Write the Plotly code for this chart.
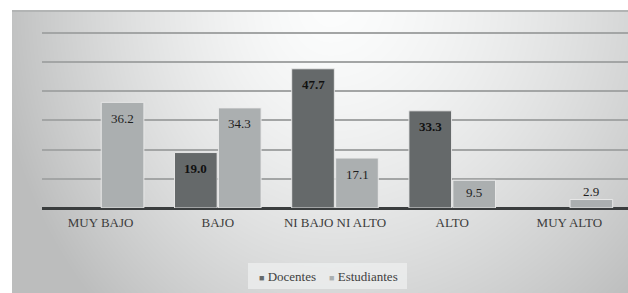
import base64, struct, zlib
import numpy as np
import plotly.graph_objects as go

categories = ["MUY BAJO", "BAJO", "NI BAJO NI ALTO", "ALTO", "MUY ALTO"]
docentes = [None, 19.0, 47.7, 33.3, None]
estudiantes = [36.2, 34.3, 17.1, 9.5, 2.9]
series_names = ["Docentes", "Estudiantes"]

W, H = 628, 293
ML, MR, MT, MB = 42, 0, 30, 85
PW, PH = W - ML - MR, H - MT - MB
YMAX = 61

DOC_COLOR = "#65696a"
EST_COLOR = "#abafb0"
FONT = "Liberation Serif"


def png_uri(arr):
    h, w, _ = arr.shape
    raw = b"".join(b"\x00" + arr[y].tobytes() for y in range(h))

    def chunk(t, d):
        return struct.pack(">I", len(d)) + t + d + struct.pack(">I", zlib.crc32(t + d) & 0xFFFFFFFF)

    png = (b"\x89PNG\r\n\x1a\n" + chunk(b"IHDR", struct.pack(">IIBBBBB", w, h, 8, 2, 0, 0, 0))
           + chunk(b"IDAT", zlib.compress(raw, 9)) + chunk(b"IEND", b""))
    return "data:image/png;base64," + base64.b64encode(png).decode()


# background gradient (decoration)
yy, xx = np.mgrid[0:H, 0:W].astype(float)
dx = xx - 330
dx = np.where(dx < 0, dx * 1.25, dx)
dy = yy * 1.0
d = np.sqrt(dx ** 2 + dy ** 2)
v = 252 - 70 * (d / 450) ** 1.5
v = np.clip(v, 188, 252)
img = np.stack([v, v + 1, v + 1], axis=-1)
img = np.clip(img, 0, 255)
img[:, :12] = 255
img[:10, :] = 255
img[10:12, 12:] = [178, 180, 180]
img = img.astype(np.uint8)

fig = go.Figure()
fig.add_trace(go.Bar(x=categories, y=docentes, name=series_names[0], marker_color=DOC_COLOR,
                     marker_line=dict(color="rgba(235,235,235,0.9)", width=1), showlegend=False))
fig.add_trace(go.Bar(x=categories, y=estudiantes, name=series_names[1], marker_color=EST_COLOR,
                     marker_line=dict(color="rgba(235,235,235,0.9)", width=1), showlegend=False))

px_per_unit = PH / YMAX
annotations = []
for series, shift, bold, color in [(docentes, -22, True, "#111111"), (estudiantes, 22, False, "#1e1e1e")]:
    for cat, val in zip(categories, series):
        if val is None:
            continue
        hpx = val * px_per_unit
        if hpx < 20:
            ys = 8
        else:
            ys = -min(16, hpx / 2 - 2)
        txt = f"{val:.1f}"
        if bold:
            txt = f"<b>{txt}</b>"
        annotations.append(dict(x=cat, y=val, xref="x", yref="y", text=txt, showarrow=False,
                                xshift=shift, yshift=ys, font=dict(family=FONT, size=13, color=color)))

# legend (drawn as text with coloured squares)
leg_text = (f"<span style='color:{DOC_COLOR};font-size:9px'>■</span> {series_names[0]}"
            f"    <span style='color:{EST_COLOR};font-size:9px'>■</span> {series_names[1]}")
annotations.append(dict(x=(328 - ML) / PW, y=-(276 - MT - PH) / PH, xref="paper", yref="paper",
                        text=leg_text, showarrow=False, xanchor="center", yanchor="middle",
                        font=dict(family=FONT, size=13, color="#404040")))
shapes = [dict(type="rect", xref="paper", yref="paper", layer="below",
               x0=(248 - ML) / PW, x1=(407 - ML) / PW,
               y0=-(289 - MT - PH) / PH, y1=-(263 - MT - PH) / PH,
               fillcolor="rgba(238,239,239,0.75)", line=dict(width=0))]

fig.update_layout(
    width=W, height=H,
    margin=dict(l=ML, r=MR, t=MT, b=MB, pad=0),
    paper_bgcolor="white",
    plot_bgcolor="rgba(0,0,0,0)",
    barmode="group", bargap=0.25, bargroupgap=0.03,
    font=dict(family=FONT, size=13, color="#404040"),
    showlegend=False,
    xaxis=dict(showgrid=False, ticks="", showline=False, ticklabelstandoff=5,
               tickfont=dict(family=FONT, size=13, color="#3c3c3c"), fixedrange=True),
    yaxis=dict(range=[0, YMAX], tickvals=[10, 20, 30, 40, 50, 60], showticklabels=False,
               gridcolor="#a3a5a5", gridwidth=1.5,
               zeroline=True, zerolinecolor="#3a3d3e", zerolinewidth=2.5, fixedrange=True),
    annotations=annotations,
    shapes=shapes,
    images=[dict(source=png_uri(img), xref="paper", yref="paper", x=-ML / PW, y=1 + MT / PH,
                 sizex=W / PW, sizey=H / PH, sizing="stretch", xanchor="left", yanchor="top", layer="below")],
)

fig.write_html("out.html", config={"displayModeBar": False},
               post_script="document.body.style.margin='0';document.body.style.overflow='hidden';")
